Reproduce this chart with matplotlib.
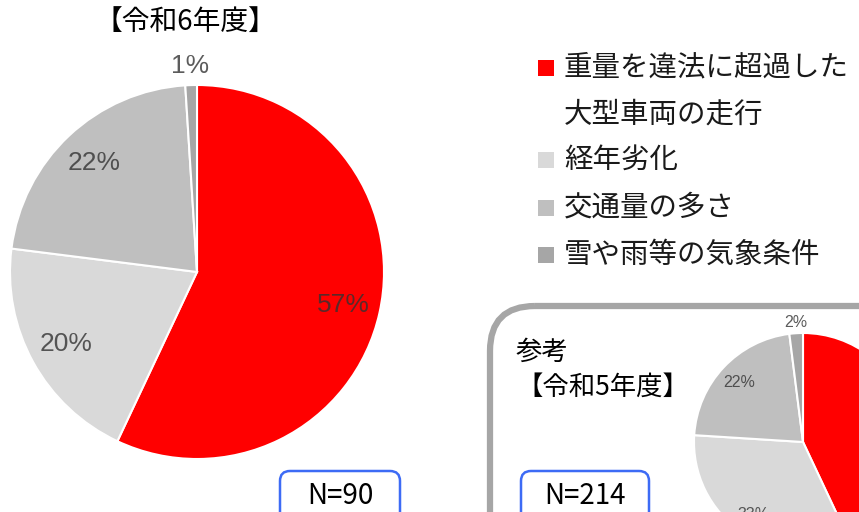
import matplotlib.pyplot as plt
import numpy as np
from matplotlib.patches import FancyBboxPatch, Rectangle

plt.rcParams['font.family'] = ['Noto Sans CJK JP', 'DejaVu Sans']

# data
categories = ['重量を違法に超過した\n大型車両の走行', '経年劣化', '交通量の多さ', '雪や雨等の気象条件']
colors = ['#ff0000', '#d9d9d9', '#bfbfbf', '#a6a6a6']
share_r6 = [57, 20, 22, 1]
share_r5 = [43, 33, 22, 2]
n_r6 = 90
n_r5 = 214

W, H = 859, 512
fig = plt.figure(figsize=(W / 100, H / 100), dpi=100)

# overlay in pixel coords for boxes and text
bg = fig.add_axes([0, 0, 1, 1])
bg.set_xlim(0, W)
bg.set_ylim(H, 0)
bg.axis('off')


def px_axes(left, top, size):
    return fig.add_axes([left / W, (H - top - size) / H, size / W, size / H])


def draw_pie(ax, vals, fs):
    wedges, _, autotexts = ax.pie(vals, colors=colors, startangle=90, counterclock=False,
                                  autopct=lambda p: f'{p:.0f}%', pctdistance=0.8,
                                  wedgeprops=dict(edgecolor='white', linewidth=1.5),
                                  textprops=dict(fontsize=fs, color='#333333', alpha=0.8,
                                                 family='Liberation Sans'))
    # small slices get their label outside
    for w, t, v in zip(wedges, autotexts, vals):
        if v < 5:
            a = np.deg2rad((w.theta1 + w.theta2) / 2)
            t.set_position((1.1 * np.cos(a), 1.1 * np.sin(a)))
    ax.set_xlim(-1, 1)
    ax.set_ylim(-1, 1)
    ax.axis('off')


# reference box (R5)
bg.add_patch(FancyBboxPatch((490, 306), 420, 260, boxstyle='round,pad=0,rounding_size=45',
                            fc='none', ec='#a6a6a6', lw=4.5))
bg.text(516, 370, '参考\n【令和5年度】', fontsize=19, va='center', ha='left', linespacing=1.35)

# main pie (R6)
ax1 = px_axes(10, 85, 374)
draw_pie(ax1, share_r6, 19)
bg.text(185, 22, '【令和6年度】', fontsize=20, ha='center', va='center')

# reference pie (R5)
ax2 = px_axes(694, 333, 218)
draw_pie(ax2, share_r5, 11.5)

# N boxes
for x0, x1, n in [(280, 400, n_r6), (521, 649, n_r5)]:
    bg.add_patch(FancyBboxPatch((x0, 471), x1 - x0, 60, boxstyle='round,pad=0,rounding_size=10',
                                fc='white', ec='#3d6bf5', lw=1.8, zorder=3))
    bg.text((x0 + x1) / 2, 496, f'N={n}', fontsize=20, ha='center', va='center', zorder=4)

# legend (first entry wraps to two lines)
rows_y = [68, 160, 208, 255]
for y, c, lab in zip(rows_y, colors, categories):
    bg.add_patch(Rectangle((538, y - 8), 16, 16, fc=c, ec='none'))
    if '\n' in lab:
        bg.text(564, y - 16, lab, fontsize=20.5, ha='left', va='top',
                linespacing=1.78, color='#1a1a1a')
    else:
        bg.text(564, y, lab, fontsize=20.5, ha='left', va='center', color='#1a1a1a')

fig.savefig('out.png', dpi=100)
